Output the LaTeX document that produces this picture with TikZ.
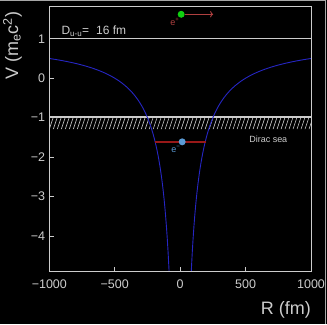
\documentclass[tikz,border=0pt]{standalone}
\usepackage{fontspec}
\setmainfont{Liberation Sans}
\usepackage{xcolor}
\usepackage{tikz}
\usetikzlibrary{arrows.meta, positioning}

\definecolor{axisgray}{HTML}{CCCCCC}
\definecolor{curveblue}{HTML}{2626C4}
\definecolor{boundred}{HTML}{981818}
\definecolor{posired}{HTML}{B04040}
\definecolor{dotgreen}{HTML}{10D010}
\definecolor{dotblue}{HTML}{5B9BD5}

\begin{document}
\begin{tikzpicture}[
  x=1pt, y=-1pt,
  axis/.style={draw=axisgray, line width=1pt},
  ticklabel/.style={text=axisgray, font=\fontsize{12.5}{14}\selectfont, inner sep=0pt},
  axislabel/.style={text=axisgray, font=\fontsize{18}{22}\selectfont, inner sep=0pt},
  infolabel/.style={text=axisgray, font=\fontsize{12}{14}\selectfont, inner sep=0pt},
  potential/.style={draw=curveblue, line width=0.9pt},
  particle/.style={circle, inner sep=0pt, minimum size=7pt},
  smalllabel/.style={font=\fontsize{9}{10}\selectfont, inner sep=0pt},
]
  % background and page border
  \fill[black] (0,0) rectangle (327,324);
  \draw[gray!70, line width=0.8pt] (0,0.4) -- (325.5,0.4) -- (325.5,324);

  % Dirac sea band below V = -1
  \begin{scope}
    \clip (49,117.3) rectangle (311,129.3);
    \foreach \i in {0,...,68}
      \draw[axisgray, line width=0.6pt] (45+4*\i,129.3) -- ++(4,-12);
  \end{scope}
  \draw[axisgray, line width=1.5pt] (49,117.3) -- (311,117.3);
  \draw[axis] (49,38.8) -- (311,38.8);

  % potential curve
  \begin{scope}
    \clip (49,7) rectangle (311,272);
    \draw[potential, domain=-1000:-80, samples=150]
      plot ({180+0.131*\x},{78.3-39.5*(1-500/abs(\x))});
    \draw[potential, domain=80:1000, samples=150]
      plot ({180+0.131*\x},{78.3-39.5*(1-500/abs(\x))});
  \end{scope}

  % frame and ticks
  \draw[axis] (49,7) rectangle (311,272);
  \foreach \v/\t in {1/1, 0/0, -1/−1, -2/−2, -3/−3, -4/−4} {
    \draw[axis] (49,78.3-39.5*\v) -- ++(5,0);
    \node[ticklabel, anchor=east] (ylab\v) at (45,78.3-39.5*\v) {\t};
  }
  \foreach \r/\t in {-1000/−1000, -500/−500, 0/0, 500/500, 1000/1000} {
    \draw[axis] (180+0.131*\r,272) -- ++(0,-5);
    \node[ticklabel] (xlab\r) at (180+0.131*\r,285) {\t};
  }
  \node[axislabel, anchor=east] (xtitle) at (311,310) {R (fm)};
  \node[axislabel, rotate=90] (ytitle) at (12,46)
    {V (m\textsubscript{e}c\textsuperscript{2})};

  % labels
  \node[infolabel, anchor=west] (dist) at (61,31)
    {D\textsubscript{u-u}=\hspace{7pt}16 fm};
  \node[smalllabel, text=axisgray, anchor=west] (sea) at (249,139) {Dirac sea};

  % bound electron in the sea
  \coordinate (seaL) at (154.5,142);
  \coordinate (seaR) at (205.5,142);
  \draw[boundred, line width=1.4pt] (seaL) -- (seaR);
  \node[particle, fill=dotblue] (eminus) at (182,142) {};
  \node[smalllabel, text=dotblue, below left=2pt and -1pt of eminus] (eminuslab)
    {e\textsuperscript{−}};

  % emitted positron
  \node[particle, fill=dotgreen] (eplus) at (181,14.3) {};
  \coordinate (eplusend) at (213,14.3);
  \draw[posired, line width=0.9pt, -{To[length=3pt]}] (eplus) -- (eplusend);
  \node[smalllabel, text=posired, below left=1pt and -1pt of eplus] (epluslab)
    {e\textsuperscript{+}};
\end{tikzpicture}
\end{document}
